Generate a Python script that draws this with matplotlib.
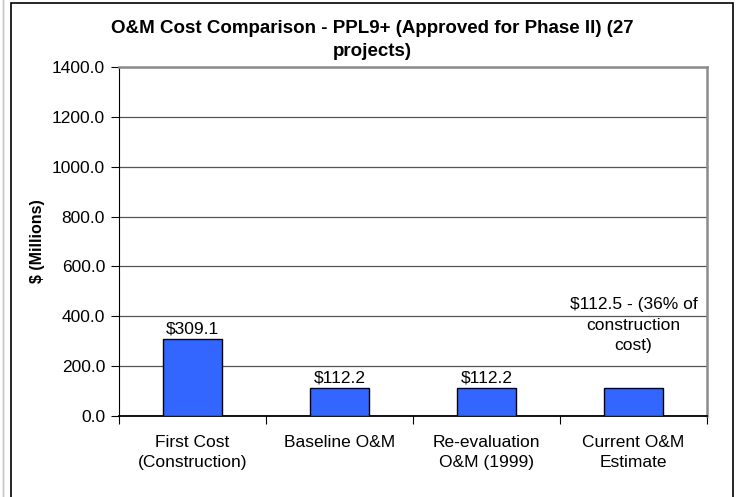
import matplotlib
matplotlib.use("Agg")
import matplotlib.pyplot as plt
from matplotlib.patches import Rectangle

plt.rcParams['font.family'] = ['Liberation Sans', 'DejaVu Sans']

# data
categories = ['First Cost\n(Construction)', 'Baseline O&M', 'Re-evaluation\nO&M (1999)', 'Current O&M\nEstimate']
values = [309.1, 112.2, 112.2, 112.5]
bar_labels = ['$309.1', '$112.2', '$112.2', '$112.5 - (36% of\nconstruction\ncost)']
yticks = [0, 200, 400, 600, 800, 1000, 1200, 1400]

fig = plt.figure(figsize=(7.42, 4.97), dpi=100)
ax = fig.add_axes([119 / 742, 1 - 416 / 497, (707 - 119) / 742, (416 - 67) / 497])

x = list(range(len(values)))
ax.bar(x, values, width=0.4, color='#3366FF', edgecolor='black', linewidth=1, zorder=3)

ax.set_xlim(-0.5, 3.5)
ax.set_ylim(0, 1400)
ax.set_yticks(yticks)
ax.set_yticklabels([f'{v:.1f}' for v in yticks])
ax.yaxis.grid(True, color='#555555', linewidth=0.9, zorder=0)

# ticks at category boundaries, labels at centres
ax.set_xticks([-0.5, 0.5, 1.5, 2.5, 3.5])
ax.set_xticklabels([])
ax.set_xticks(x, minor=True)
ax.set_xticklabels(categories, minor=True, fontsize=12.5, linespacing=1.4)
ax.tick_params(axis='x', which='major', length=6, color='black', direction='out')
ax.tick_params(axis='x', which='minor', length=0, pad=14)
ax.tick_params(axis='y', length=6, color='black', direction='out', labelsize=12.5, pad=4)

ax.spines['left'].set_color('black')
ax.spines['bottom'].set_color('black')
ax.spines['bottom'].set_linewidth(1.3)
ax.spines['top'].set_color('#8c8c8c')
ax.spines['right'].set_color('#8c8c8c')
ax.spines['top'].set_linewidth(1.8)
ax.spines['right'].set_linewidth(1.8)

for i, (v, lab) in enumerate(zip(values, bar_labels)):
    off = 25 if '\n' in lab else 2
    ax.annotate(lab, (i, v), xytext=(0, off), textcoords='offset points',
                ha='center', va='bottom', fontsize=12.5, linespacing=1.45, zorder=4)

ax.set_ylabel('$ (Millions)', fontsize=11.5, fontweight='bold')
ax.yaxis.set_label_coords(-74 / 588, 0.5)

fig.text(372 / 742, 1 - 40 / 497, 'O&M Cost Comparison - PPL9+ (Approved for Phase II) (27\nprojects)',
         ha='center', va='center', fontsize=13.5, fontweight='bold', linespacing=1.4)

# outer chart border (no bottom edge visible)
fig.patches.append(Rectangle((11 / 742, -0.05), (733 - 11) / 742, 1.05 - 3 / 497,
                             transform=fig.transFigure, fill=False, edgecolor='black', linewidth=1.2))
fig.patches.append(Rectangle((3 / 742, -0.05), 0, 1.1, transform=fig.transFigure,
                             fill=False, edgecolor='#c8c8c8', linewidth=1))

fig.savefig('out.png', dpi=100)
